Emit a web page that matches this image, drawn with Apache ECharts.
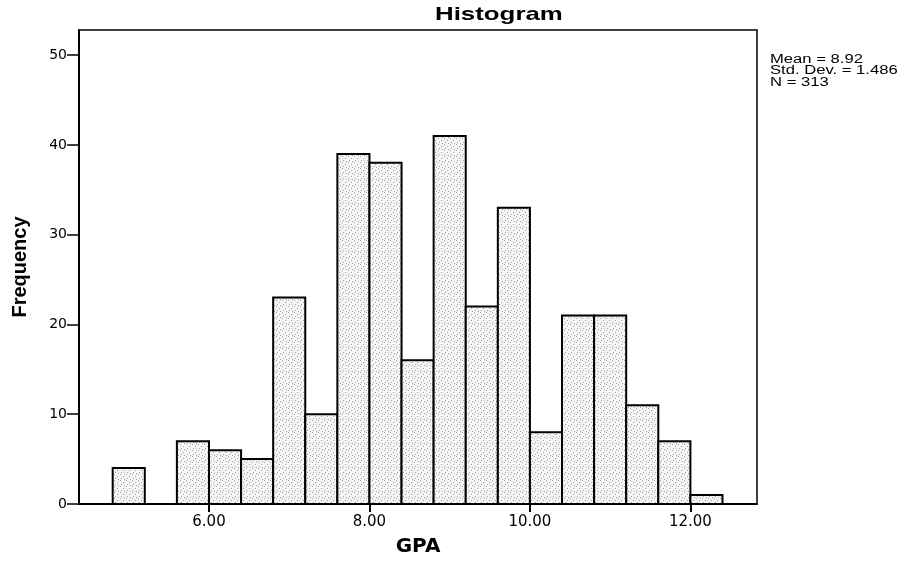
<!DOCTYPE html>
<html>
<head>
<meta charset="utf-8">
<script src="https://cdn.jsdelivr.net/npm/echarts@6/dist/echarts.min.js"></script>
<style>
  html, body { margin: 0; padding: 0; background: #fff; }
  #chart { width: 909px; height: 562px; }
</style>
</head>
<body>
<div id="chart"></div>
<script>
// histogram bins of GPA (width 0.4)
var binStarts = [4.8, 5.6, 6.0, 6.4, 6.8, 7.2, 7.6, 8.0, 8.4, 8.8, 9.2, 9.6, 10.0, 10.4, 10.8, 11.2, 11.6, 12.0];
var counts    = [4, 7, 6, 5, 23, 10, 39, 38, 16, 41, 22, 33, 8, 21, 21, 11, 7, 1];
var binWidth = 0.4;
var xTicks = [6, 8, 10, 12];
var yTicks = [0, 10, 20, 30, 40, 50];
var statLines = ['Mean = 8.92', 'Std. Dev. = 1.486', 'N = 313'];

// speckled grey fill, like the scanned SPSS bars
var pat = document.createElement('canvas');
pat.width = 6; pat.height = 6;
var pc = pat.getContext('2d');
pc.fillStyle = '#f5f5f5';
pc.fillRect(0, 0, 6, 6);
pc.fillStyle = '#a0a0a0';
pc.fillRect(0, 0, 1, 1);
pc.fillRect(3, 2, 1, 1);
pc.fillRect(1, 4, 1, 1);
pc.fillRect(4, 5, 1, 1);

var data = binStarts.map(function (s, i) { return [s, counts[i]]; });

var chart = echarts.init(document.getElementById('chart'));
var option = {
    animation: false,
    backgroundColor: '#fff',
    // the scanned text is stretched sideways, hence scaleX
    graphic: [{
        type: 'text',
        left: 435,
        top: 5,
        scaleX: 1.36,
        style: {
            text: 'Histogram',
            font: 'bold 19px "Liberation Sans"',
            fill: '#000'
        }
    }, {
        type: 'text',
        left: 770,
        top: 53,
        scaleX: 1.33,
        style: {
            text: statLines.join('\n'),
            font: '12.5px "Liberation Sans"',
            lineHeight: 11.5,
            fill: '#000'
        }
    }],
    grid: {
        left: 79, right: 152, top: 30, bottom: 55,
        show: true,
        borderColor: '#000',
        borderWidth: 1.5,
        backgroundColor: 'transparent'
    },
    xAxis: {
        type: 'value',
        min: 4.38,
        max: 12.83,
        name: 'GPA',
        nameLocation: 'middle',
        nameGap: 33,
        nameTextStyle: { fontFamily: 'DejaVu Sans', fontSize: 20, fontWeight: 'bold', color: '#000' },
        axisLine: { lineStyle: { color: '#000', width: 2 } },
        axisTick: { show: true, length: 8, customValues: xTicks, lineStyle: { color: '#000', width: 2 } },
        axisLabel: {
            customValues: xTicks,
            margin: 11,
            color: '#000',
            fontFamily: 'DejaVu Sans',
            fontSize: 15,
            formatter: function (v) { return v.toFixed(2); }
        },
        splitLine: { show: false }
    },
    yAxis: {
        type: 'value',
        min: 0,
        max: 52.8,
        name: 'Frequency',
        nameLocation: 'middle',
        nameGap: 49,
        nameTextStyle: { fontFamily: 'Liberation Sans', fontSize: 20, fontWeight: 'bold', color: '#000' },
        axisLine: { show: true, lineStyle: { color: '#000', width: 2 } },
        axisTick: { show: true, length: 12, customValues: yTicks, lineStyle: { color: '#000', width: 1.5 } },
        axisLabel: {
            customValues: yTicks,
            margin: 12,
            color: '#000',
            fontFamily: 'DejaVu Sans',
            fontSize: 14
        },
        splitLine: { show: false }
    },
    series: [{
        type: 'custom',
        data: data,
        encode: { x: 0, y: 1 },
        renderItem: function (params, api) {
            var s = api.value(0);
            var c = api.value(1);
            var p0 = api.coord([s, c]);
            var p1 = api.coord([s + binWidth, 0]);
            return {
                type: 'rect',
                shape: { x: p0[0], y: p0[1], width: p1[0] - p0[0], height: p1[1] - p0[1] },
                style: {
                    fill: { image: pat, repeat: 'repeat' },
                    stroke: '#000',
                    lineWidth: 2
                }
            };
        }
    }]
};
chart.setOption(option);
</script>
</body>
</html>
